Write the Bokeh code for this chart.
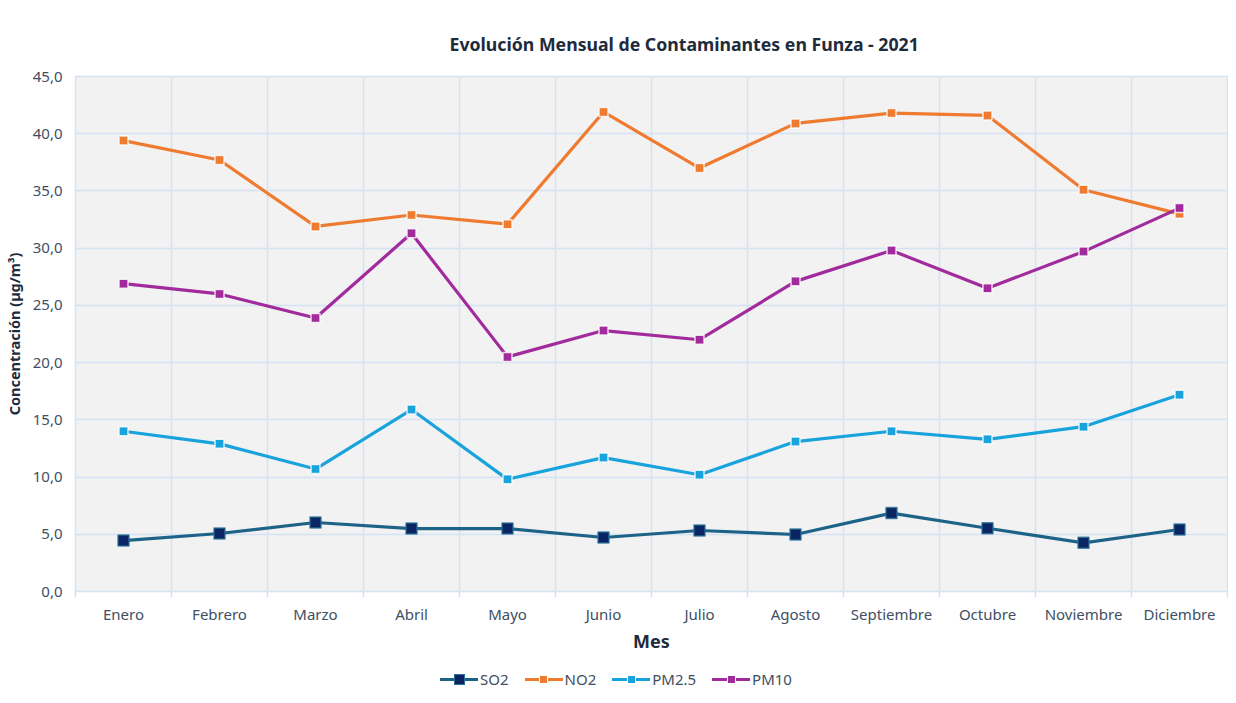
from bokeh.plotting import figure
from bokeh.layouts import column
from bokeh.models import Range1d, FixedTicker, Div
from bokeh.embed import file_html
from bokeh.resources import INLINE

months = ["Enero", "Febrero", "Marzo", "Abril", "Mayo", "Junio", "Julio",
          "Agosto", "Septiembre", "Octubre", "Noviembre", "Diciembre"]
so2 = [4.45, 5.07, 6.03, 5.50, 5.50, 4.72, 5.33, 4.98, 6.85, 5.53, 4.25, 5.42]
no2 = [39.4, 37.7, 31.9, 32.9, 32.1, 41.9, 37.0, 40.9, 41.8, 41.6, 35.1, 33.0]
pm25 = [14.0, 12.9, 10.7, 15.9, 9.8, 11.7, 10.2, 13.1, 14.0, 13.3, 14.4, 17.2]
pm10 = [26.9, 26.0, 23.9, 31.3, 20.5, 22.8, 22.0, 27.1, 29.8, 26.5, 29.7, 33.5]
y_ticks = [0, 5, 10, 15, 20, 25, 30, 35, 40, 45]

FONT = "Noto Sans"
TICK_COL = "#404F63"
DARK = "#1E2B3C"
GRID = "#D3E3F4"

xs = [i + 0.5 for i in range(len(months))]
bounds = list(range(len(months) + 1))

p = figure(frame_width=1152, frame_height=515, output_backend="svg",
           toolbar_location=None,
           x_range=Range1d(0, len(months)), y_range=Range1d(0, 45),
           min_border_left=67, min_border_right=1, min_border_top=76,
           min_border_bottom=72)
p.background_fill_color = "#F2F2F2"
p.border_fill_color = "white"
p.outline_line_color = GRID
p.outline_line_width = 1.5

p.title.text = "Evolución Mensual de Contaminantes en Funza - 2021"
p.title.align = "left"
p.title.offset = 374
p.title.standoff = 42
p.title.text_font = FONT
p.title.text_font_style = "bold"
p.title.text_font_size = "17.7px"
p.title.text_color = DARK

# x axis
p.xaxis.ticker = FixedTicker(ticks=xs, minor_ticks=bounds)
p.xaxis.major_label_overrides = {x: m for x, m in zip(xs, months)}
p.xaxis.major_tick_line_color = None
p.xaxis.major_tick_out = 0
p.xaxis.major_tick_in = 0
p.xaxis.minor_tick_line_color = GRID
p.xaxis.minor_tick_line_width = 1.5
p.xaxis.minor_tick_out = 6
p.xaxis.minor_tick_in = 0
p.xaxis.axis_line_color = None
p.xaxis.major_label_standoff = 6
p.xaxis.major_label_text_font = FONT
p.xaxis.major_label_text_font_size = "15px"
p.xaxis.major_label_text_color = TICK_COL
p.xaxis.axis_label = "Mes"
p.xaxis.axis_label_text_font = FONT
p.xaxis.axis_label_text_font_style = "bold"
p.xaxis.axis_label_text_font_size = "18px"
p.xaxis.axis_label_text_color = DARK
p.xaxis.axis_label_standoff = 2

# y axis
p.yaxis.ticker = FixedTicker(ticks=y_ticks)
p.yaxis.major_label_overrides = {v: f"{v:.1f}".replace(".", ",") for v in y_ticks}
p.yaxis.major_tick_line_color = None
p.yaxis.minor_tick_line_color = None
p.yaxis.major_tick_out = 0
p.yaxis.major_tick_in = 0
p.yaxis.axis_line_color = None
p.yaxis.major_label_standoff = 13
p.yaxis.major_label_text_font = FONT
p.yaxis.major_label_text_font_size = "15px"
p.yaxis.major_label_text_color = TICK_COL
p.yaxis.axis_label = "Concentración (µg/m³)"
p.yaxis.axis_label_text_font = FONT
p.yaxis.axis_label_text_font_style = "bold"
p.yaxis.axis_label_text_font_size = "14.5px"
p.yaxis.axis_label_text_color = DARK
p.yaxis.axis_label_standoff = 6

p.xgrid.ticker = FixedTicker(ticks=bounds)
p.xgrid.grid_line_color = GRID
p.xgrid.grid_line_width = 1.5
p.ygrid.grid_line_color = GRID
p.ygrid.grid_line_width = 1.5

series = [
    ("SO2", so2, "#1D6388", "#0B2463", "#2A7196", 11),
    ("NO2", no2, "#EE7B30", "#EE7B30", "#FFFFFF", 9),
    ("PM2.5", pm25, "#19A3DD", "#19A3DD", "#FFFFFF", 9),
    ("PM10", pm10, "#A12B9C", "#A12B9C", "#FFFFFF", 9),
]

parts = []
for name, vals, lc, fc, mc, sz in series:
    p.line(xs, vals, line_color=lc, line_width=3.2)
    p.scatter(xs, vals, marker="square", size=sz, fill_color=fc,
              line_color=mc, line_width=1.5, line_alpha=0.8)
    parts.append(
        '<span style="display:inline-flex;align-items:center;margin-right:16px;">'
        '<span style="position:relative;display:inline-block;width:38px;'
        'height:16px;margin-right:2px;">'
        f'<span style="position:absolute;left:0;top:6.5px;width:38px;height:3px;'
        f'background:{lc};"></span>'
        f'<span style="position:absolute;left:{19 - sz / 2}px;top:{8 - sz / 2}px;'
        f'width:{sz}px;height:{sz}px;background:{fc};box-sizing:border-box;'
        f'border:1.5px solid {mc};"></span></span>'
        f'<span style="font-family:\'{FONT}\';font-size:15px;line-height:20px;'
        f'color:{TICK_COL};">{name}</span></span>')

legend_html = ('<div style="padding:6px 0 0 440px;white-space:nowrap;'
               'display:flex;align-items:center;">' + "".join(parts) + '</div>')
legend_div = Div(text=legend_html, width=1220, height=40, margin=(0, 0, 0, 0))

layout = column(p, legend_div, spacing=0)
open("out.html", "w").write(file_html(layout, INLINE))
